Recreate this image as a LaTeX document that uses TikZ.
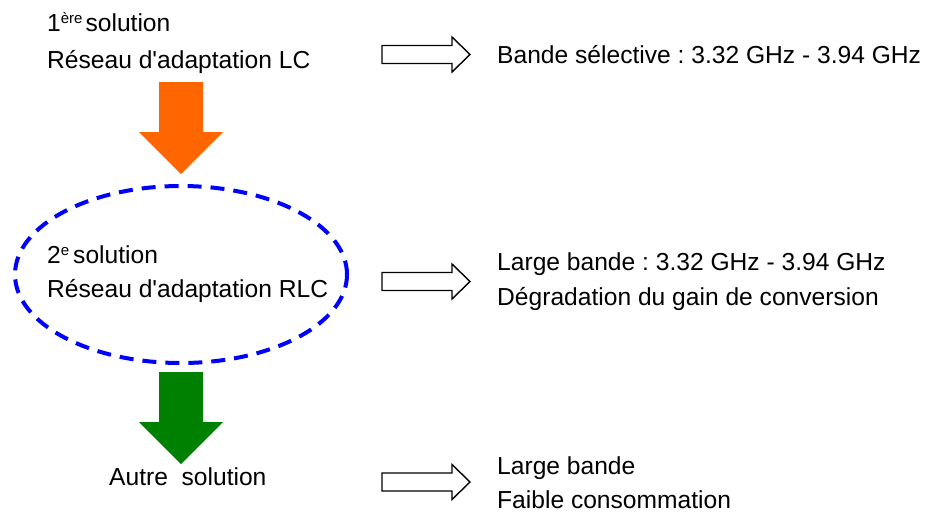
\documentclass[tikz,border=0pt]{standalone}
\usepackage{fontspec}
\setmainfont{Liberation Sans}[Ligatures=TeXOff]
\usetikzlibrary{shapes.geometric}
\definecolor{arrorange}{HTML}{FF6600}
\definecolor{arrgreen}{HTML}{008000}
\definecolor{ellblue}{HTML}{0000FF}
\newcommand\supx[1]{\raisebox{7.5pt}{\fontsize{15}{15}\selectfont #1}}
\frenchspacing
\begin{document}
\begin{tikzpicture}[x=1pt,y=-1pt,
  txt/.style={inner sep=0pt, anchor=base west, font=\fontsize{24.6}{30}\selectfont},
  hollowarrow/.pic={\draw[line width=1.4pt, fill=white, line join=miter]
     (0,-9) -- (70,-9) -- (70,-17.5) -- (88,0) -- (70,17.5) -- (70,9) -- (0,9) -- cycle;},
  downarrow/.pic={\fill (-22,0) -- (22,0) -- (22,50) -- (42,50) -- (0,92) -- (-42,50) -- (-22,50) -- cycle;},
  dashell/.style={ellipse, draw=ellblue, line width=4pt, dash pattern=on 14pt off 9pt,
     minimum width=332pt, minimum height=177pt, inner sep=0pt}]
\useasboundingbox (0,0) rectangle (926,512);

% first solution
\node[txt] (s1a) at (47,31) {1\supx{ère}\hspace{3pt}solution};
\node[txt] (s1b) at (47,68) {Réseau d'adaptation LC};
\node[txt] (r1) at (497,63) {Bande sélective : 3.32 GHz - 3.94 GHz};
\pic at (382,54.5) {hollowarrow};

% orange arrow
\pic[arrorange] at (181,82) {downarrow};

% second solution
\node[dashell] (e2) at (181,274.5) {};
\node[txt] (s2a) at (47,263) {2\supx{e}\hspace{4pt}solution};
\node[txt] (s2b) at (47,297) {Réseau d'adaptation RLC};
\node[txt] (r2a) at (497,270) {Large bande : 3.32 GHz - 3.94 GHz};
\node[txt] (r2b) at (497,305) {Dégradation du gain de conversion};
\pic at (382,281.5) {hollowarrow};

% green arrow
\pic[arrgreen] at (181,372) {downarrow};

% other solution
\node[txt] (s3) at (109,485) {Autre~ solution};
\node[txt] (r3a) at (497,474) {Large bande};
\node[txt] (r3b) at (497,508) {Faible consommation};
\pic at (382,482) {hollowarrow};
\end{tikzpicture}
\end{document}
